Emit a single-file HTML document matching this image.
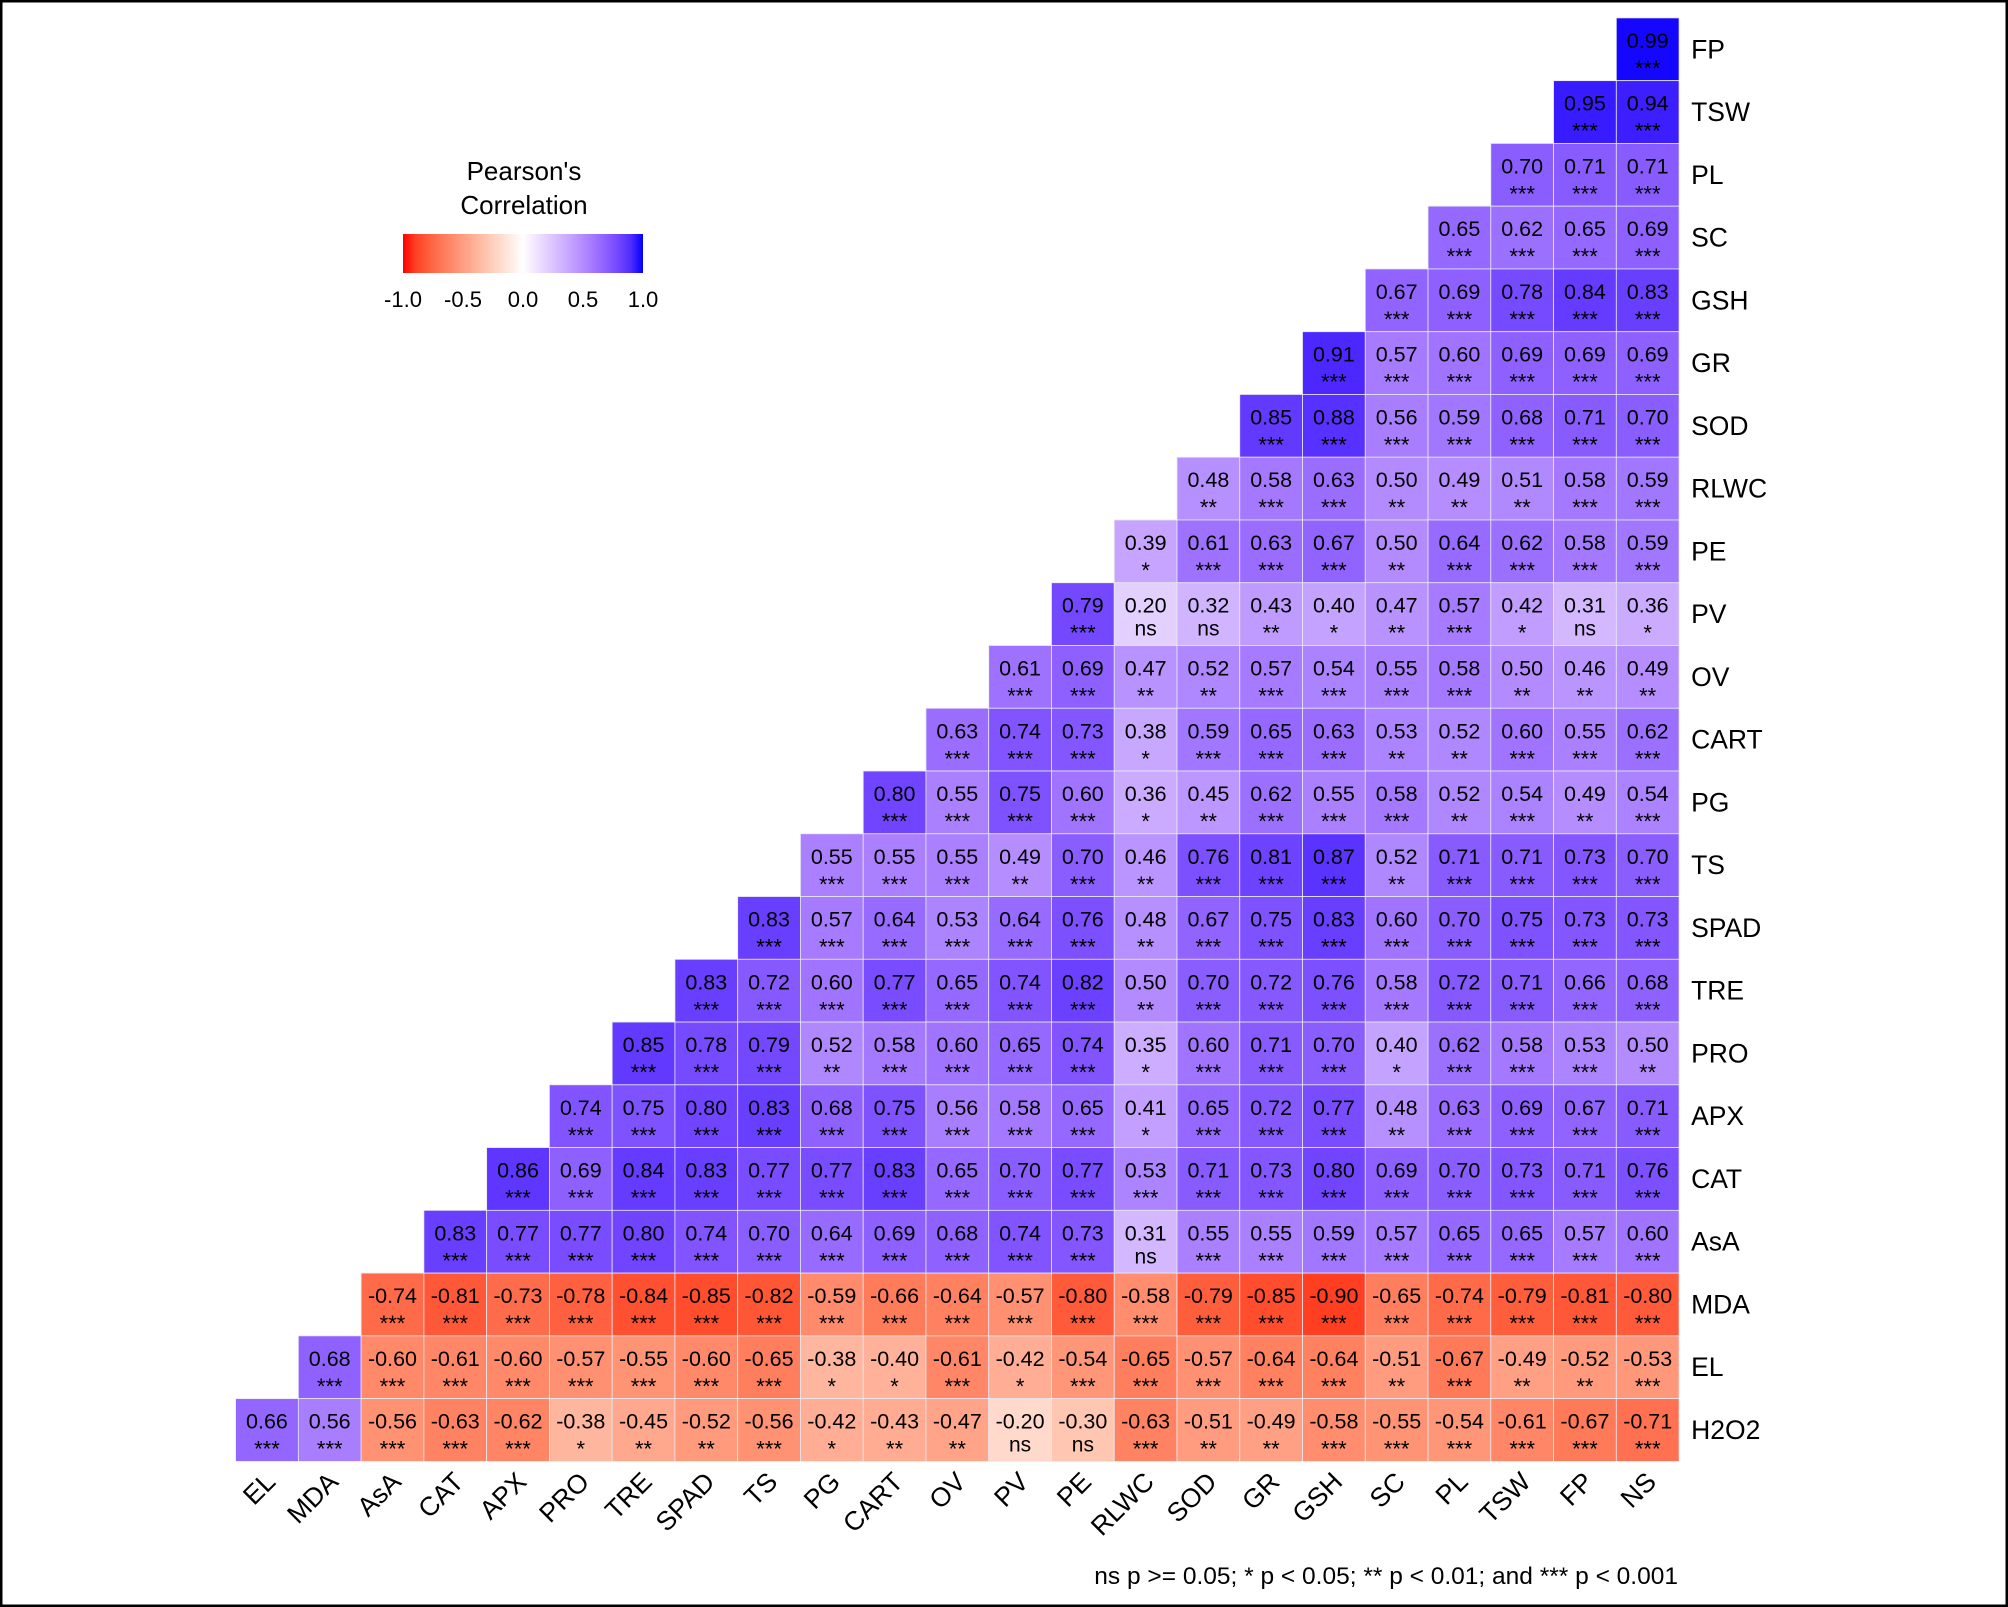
<!DOCTYPE html>
<html><head><meta charset="utf-8"><style>
html,body{margin:0;padding:0;background:#fff}
svg{display:block}
text{font-family:"Liberation Sans",Arial,sans-serif;fill:#000}
</style></head><body>
<svg id="s" width="2008" height="1607" viewBox="0 0 2008 1607" xmlns="http://www.w3.org/2000/svg">
<rect x="1" y="1" width="2006" height="1605" fill="#fff" stroke="#000" stroke-width="3"/>
<defs><linearGradient id="lg" x1="0" x2="1" y1="0" y2="0"></linearGradient></defs>
<g id="cells"></g>
<text x="524" y="180" font-size="26" text-anchor="middle">Pearson's</text>
<text x="524" y="214" font-size="26" text-anchor="middle">Correlation</text>
<rect x="403" y="234" width="240" height="39" fill="url(#lg)"/>
<text x="1678" y="1584" font-size="24.5" text-anchor="end">ns p &gt;= 0.05; * p &lt; 0.05; ** p &lt; 0.01; and *** p &lt; 0.001</text>
</svg>
<script>
function toLin(c){c/=255;return c<=0.04045?c/12.92:Math.pow((c+0.055)/1.055,2.4)}
function fromLin(c){c=c<=0.0031308?12.92*c:1.055*Math.pow(c,1/2.4)-0.055;return Math.max(0,Math.min(255,Math.round(c*255)))}
function f(t){return t>0.008856?Math.cbrt(t):7.787*t+16/116}
function fi(t){return t>0.206893?t*t*t:(t-16/116)/7.787}
function rgb2lab(r,g,b){r=toLin(r);g=toLin(g);b=toLin(b);
var X=(r*0.4124+g*0.3576+b*0.1805)/0.95047,Y=r*0.2126+g*0.7152+b*0.0722,Z=(r*0.0193+g*0.1192+b*0.9505)/1.08883;
return[116*f(Y)-16,500*(f(X)-f(Y)),200*(f(Y)-f(Z))]}
function lab2rgb(L,a,bb){var fy=(L+16)/116,fx=fy+a/500,fz=fy-bb/200;
var X=fi(fx)*0.95047,Y=fi(fy),Z=fi(fz)*1.08883;
var r=3.2406*X-1.5372*Y-0.4986*Z,g=-0.9689*X+1.8758*Y+0.0415*Z,b=0.0557*X-0.2040*Y+1.0570*Z;
return"rgb("+fromLin(r)+","+fromLin(g)+","+fromLin(b)+")"}
var W=rgb2lab(255,255,255),R=rgb2lab(255,0,0),B=rgb2lab(0,0,255);
function col(v){var e=v<0?R:B,t=Math.abs(v);return lab2rgb(W[0]+(e[0]-W[0])*t,W[1]+(e[1]-W[1])*t,W[2]+(e[2]-W[2])*t)}
var NS="http://www.w3.org/2000/svg";
var lg=document.getElementById("lg");
for(var i=0;i<=20;i++){var v=-1+i/10,st=document.createElementNS(NS,"stop");st.setAttribute("offset",(i/20));st.setAttribute("stop-color",col(v));lg.appendChild(st)}
var rows=["FP","TSW","PL","SC","GSH","GR","SOD","RLWC","PE","PV","OV","CART","PG","TS","SPAD","TRE","PRO","APX","CAT","AsA","MDA","EL","H2O2"];
var cols=["EL","MDA","AsA","CAT","APX","PRO","TRE","SPAD","TS","PG","CART","OV","PV","PE","RLWC","SOD","GR","GSH","SC","PL","TSW","FP","NS"];
var D=[
"0.99***","0.95*** 0.94***","0.70*** 0.71*** 0.71***","0.65*** 0.62*** 0.65*** 0.69***",
"0.67*** 0.69*** 0.78*** 0.84*** 0.83***","0.91*** 0.57*** 0.60*** 0.69*** 0.69*** 0.69***",
"0.85*** 0.88*** 0.56*** 0.59*** 0.68*** 0.71*** 0.70***",
"0.48** 0.58*** 0.63*** 0.50** 0.49** 0.51** 0.58*** 0.59***",
"0.39* 0.61*** 0.63*** 0.67*** 0.50** 0.64*** 0.62*** 0.58*** 0.59***",
"0.79*** 0.20ns 0.32ns 0.43** 0.40* 0.47** 0.57*** 0.42* 0.31ns 0.36*",
"0.61*** 0.69*** 0.47** 0.52** 0.57*** 0.54*** 0.55*** 0.58*** 0.50** 0.46** 0.49**",
"0.63*** 0.74*** 0.73*** 0.38* 0.59*** 0.65*** 0.63*** 0.53** 0.52** 0.60*** 0.55*** 0.62***",
"0.80*** 0.55*** 0.75*** 0.60*** 0.36* 0.45** 0.62*** 0.55*** 0.58*** 0.52** 0.54*** 0.49** 0.54***",
"0.55*** 0.55*** 0.55*** 0.49** 0.70*** 0.46** 0.76*** 0.81*** 0.87*** 0.52** 0.71*** 0.71*** 0.73*** 0.70***",
"0.83*** 0.57*** 0.64*** 0.53*** 0.64*** 0.76*** 0.48** 0.67*** 0.75*** 0.83*** 0.60*** 0.70*** 0.75*** 0.73*** 0.73***",
"0.83*** 0.72*** 0.60*** 0.77*** 0.65*** 0.74*** 0.82*** 0.50** 0.70*** 0.72*** 0.76*** 0.58*** 0.72*** 0.71*** 0.66*** 0.68***",
"0.85*** 0.78*** 0.79*** 0.52** 0.58*** 0.60*** 0.65*** 0.74*** 0.35* 0.60*** 0.71*** 0.70*** 0.40* 0.62*** 0.58*** 0.53*** 0.50**",
"0.74*** 0.75*** 0.80*** 0.83*** 0.68*** 0.75*** 0.56*** 0.58*** 0.65*** 0.41* 0.65*** 0.72*** 0.77*** 0.48** 0.63*** 0.69*** 0.67*** 0.71***",
"0.86*** 0.69*** 0.84*** 0.83*** 0.77*** 0.77*** 0.83*** 0.65*** 0.70*** 0.77*** 0.53*** 0.71*** 0.73*** 0.80*** 0.69*** 0.70*** 0.73*** 0.71*** 0.76***",
"0.83*** 0.77*** 0.77*** 0.80*** 0.74*** 0.70*** 0.64*** 0.69*** 0.68*** 0.74*** 0.73*** 0.31ns 0.55*** 0.55*** 0.59*** 0.57*** 0.65*** 0.65*** 0.57*** 0.60***",
"-0.74*** -0.81*** -0.73*** -0.78*** -0.84*** -0.85*** -0.82*** -0.59*** -0.66*** -0.64*** -0.57*** -0.80*** -0.58*** -0.79*** -0.85*** -0.90*** -0.65*** -0.74*** -0.79*** -0.81*** -0.80***",
"0.68*** -0.60*** -0.61*** -0.60*** -0.57*** -0.55*** -0.60*** -0.65*** -0.38* -0.40* -0.61*** -0.42* -0.54*** -0.65*** -0.57*** -0.64*** -0.64*** -0.51** -0.67*** -0.49** -0.52** -0.53***",
"0.66*** 0.56*** -0.56*** -0.63*** -0.62*** -0.38* -0.45** -0.52** -0.56*** -0.42* -0.43** -0.47** -0.20ns -0.30ns -0.63*** -0.51** -0.49** -0.58*** -0.55*** -0.54*** -0.61*** -0.67*** -0.71***"];
var x0=235.6,y0=17.9,c=62.76,g=document.getElementById("cells"),h="";
for(var i=0;i<23;i++){var it=D[i].split(" "),start=22-i;
for(var k=0;k<it.length;k++){var m=it[k].match(/^(-?[0-9.]+)(.*)$/),v=parseFloat(m[1]),s=m[2];
var x=x0+(start+k)*c,y=y0+i*c;
h+='<rect x="'+x+'" y="'+y+'" width="'+c+'" height="'+c+'" fill="'+col(v)+'" stroke="#e8e8f0" stroke-width="0.8"/>';
h+='<text x="'+(x+c/2)+'" y="'+(y+30)+'" font-size="21.5" text-anchor="middle">'+m[1]+'</text>';
h+='<text x="'+(x+c/2)+'" y="'+(y+(s=="ns"?53:58))+'" font-size="'+(s=="ns"?21:22)+'" text-anchor="middle">'+s+'</text>';}
h+='<text x="'+(x0+23*c+12)+'" y="'+(y0+i*c+c/2+9)+'" font-size="26.5">'+rows[i]+'</text>';}
for(var j=0;j<23;j++){var cx=x0+j*c+c/2+10,cy=y0+23*c+22;
h+='<text transform="translate('+cx+','+cy+') rotate(-45)" font-size="26.5" text-anchor="end">'+cols[j]+'</text>';}
var ticks=[["-1.0",403],["-0.5",463],["0.0",523],["0.5",583],["1.0",643]];
ticks.forEach(function(t){h+='<line x1="'+t[1]+'" x2="'+t[1]+'" y1="234" y2="241" stroke="#fff" stroke-width="1.5"/><line x1="'+t[1]+'" x2="'+t[1]+'" y1="266" y2="273" stroke="#fff" stroke-width="1.5"/>';
h+='<text x="'+t[1]+'" y="307" font-size="22" text-anchor="middle" fill="#333">'+t[0]+'</text>'});
g.innerHTML=h;
</script>
</body></html>
